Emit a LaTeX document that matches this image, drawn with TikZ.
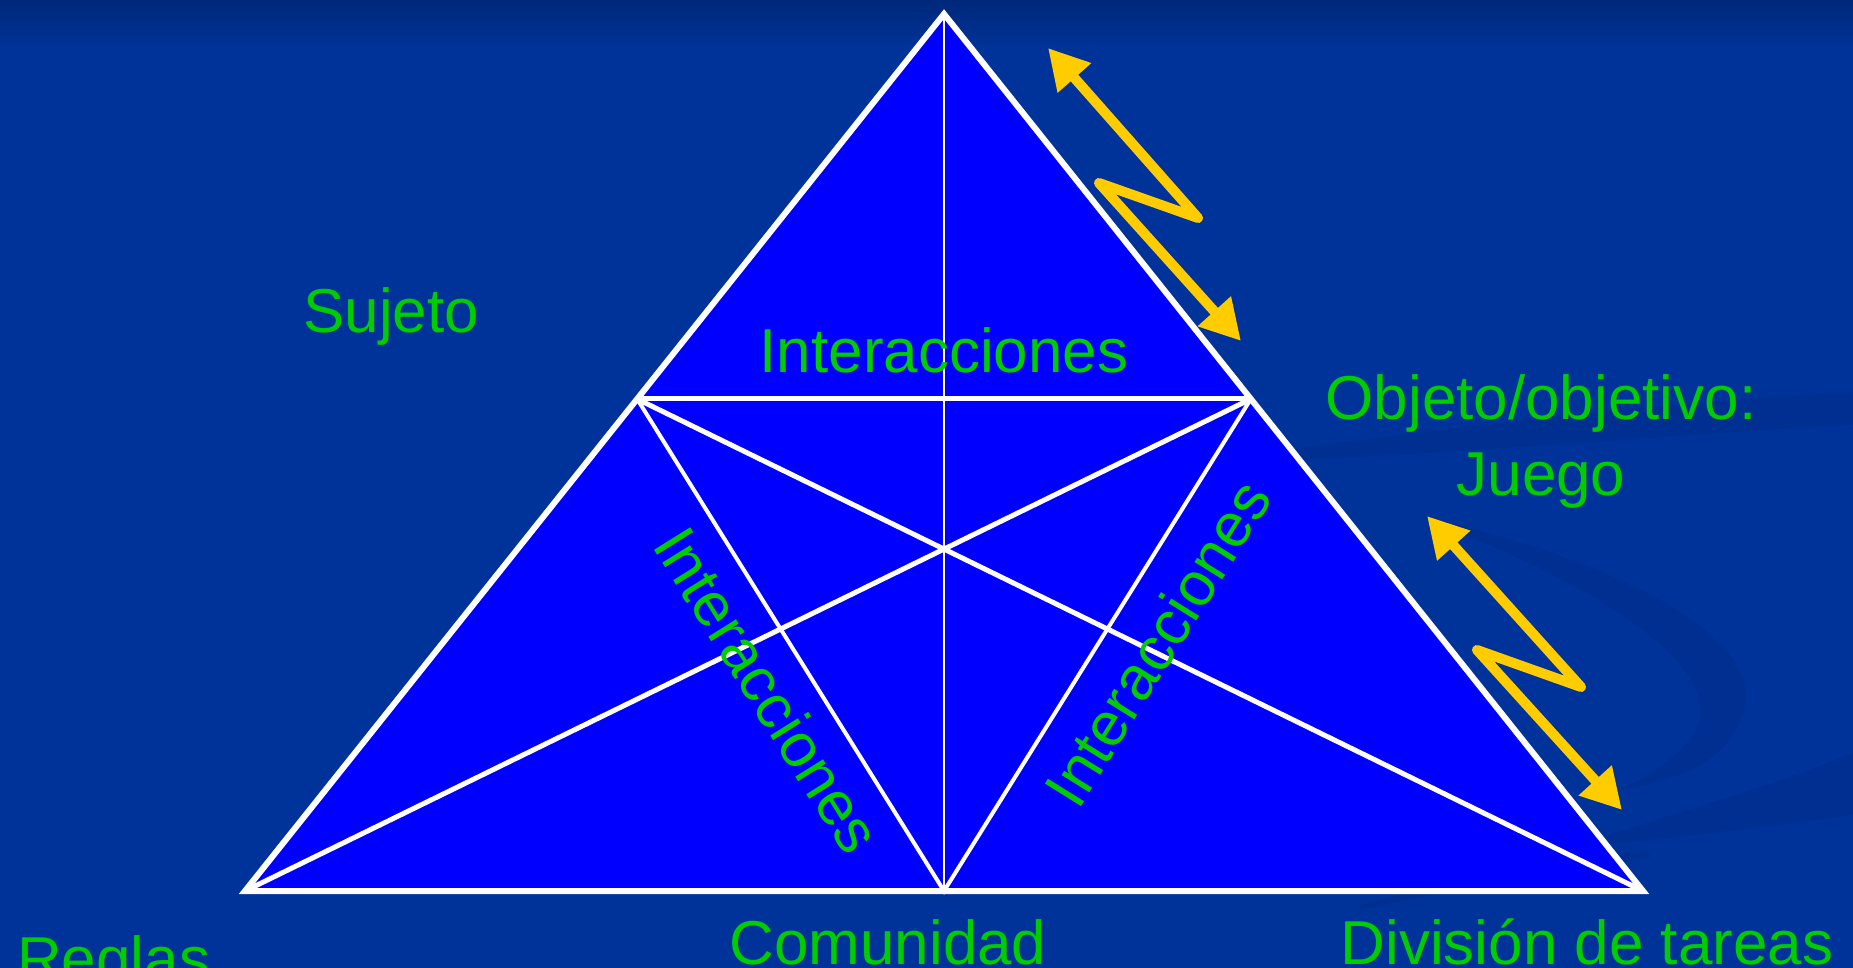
\documentclass[tikz,border=0pt]{standalone}
\usepackage{fontspec}
\setmainfont{Liberation Sans}
\usetikzlibrary{arrows.meta,calc}
\definecolor{bgblue}{RGB}{0,51,153}
\definecolor{topblue}{RGB}{0,40,122}
\definecolor{swooshblue}{RGB}{0,47,146}
\definecolor{fillblue}{RGB}{0,0,255}
\definecolor{labelgreen}{RGB}{0,204,0}
\definecolor{arrowyellow}{RGB}{255,204,0}
\begin{document}
\begin{tikzpicture}[x=1pt,y=-1pt,
  lbl/.style={text=labelgreen,font=\fontsize{62}{74}\selectfont,inner sep=0pt},
  outline/.style={draw=white,line width=6pt,line join=miter},
  longline/.style={draw=white,line width=5pt},
  midline/.style={draw=white,line width=4pt},
  axisline/.style={draw=white,line width=2.6pt},
  zigzag/.style={draw=arrowyellow,line width=10pt,line join=round,line cap=round,
    {Triangle[length=40pt,width=42pt]}-{Triangle[length=40pt,width=42pt]}},
  swoosh/.style={fill=swooshblue}
]
\useasboundingbox (0,0) rectangle (1853,968);
\clip (0,0) rectangle (1853,968);
% background
\fill[bgblue] (0,0) rectangle (1853,968);
\fill[top color=topblue,bottom color=bgblue] (0,0) rectangle (1853,50);
% faint background swoosh
\fill[swoosh] (1250,455) .. controls (1500,420) and (1700,400) .. (1853,392)
  -- (1853,425) .. controls (1700,432) and (1500,452) .. (1250,462) -- cycle;
\fill[swoosh] (1415,515) .. controls (1560,545) and (1760,620) .. (1745,705)
  .. controls (1735,760) and (1680,780) .. (1620,790)
  .. controls (1670,765) and (1705,735) .. (1700,705)
  .. controls (1690,640) and (1560,570) .. (1415,515) -- cycle;
\fill[swoosh] (1600,838) .. controls (1700,805) and (1790,780) .. (1853,752)
  -- (1853,815) .. controls (1780,825) and (1700,835) .. (1600,845) -- cycle;
\fill[swoosh] (1360,905) .. controls (1450,880) and (1550,862) .. (1650,850)
  -- (1650,858) .. controls (1550,870) and (1450,890) .. (1360,910) -- cycle;
% triangle vertices
\coordinate (A) at (944,14);
\coordinate (B) at (245,891);
\coordinate (C) at (1643,891);
\coordinate (M) at (944,891);
\coordinate (P) at ($(A)!0.439!(B)$);
\coordinate (Q) at ($(A)!0.439!(C)$);
% triangle
\fill[fillblue] (A) -- (B) -- (C) -- cycle;
\draw[axisline] (A) -- (M);
\draw[midline] (P) -- (M) -- (Q);
\draw[longline] (P) -- (C);
\draw[longline] (Q) -- (B);
\draw[longline] (P) -- (Q);
\draw[outline] (A) -- (B) -- (C) -- cycle;
% labels
\node[lbl,anchor=base] (inttop) at (944,373) {Interacciones};
\node[lbl,rotate=-58] (intleft) at (768,690) {Interacciones};
\node[lbl,rotate=58] (intright) at (1157,643) {Interacciones};
\node[lbl,anchor=base west] (sujeto) at (303,333) {Sujeto};
\node[lbl,anchor=base] (objeto) at (1541,419) {Objeto/objetivo:};
\node[lbl,anchor=base] (juego) at (1541,495) {Juego};
\node[lbl,anchor=base west] (reglas) at (17,980) {Reglas};
\node[lbl,anchor=base] (comunidad) at (888,964) {Comunidad};
\node[lbl,anchor=base] (division) at (1587,964) {División de tareas};
% zigzag arrows
\coordinate (a1) at (1048,48);
\coordinate (a2) at (1198,218);
\coordinate (a3) at (1099,183);
\coordinate (a4) at (1241,341);
\draw[zigzag] (a1) -- (a2) -- (a3) -- (a4);
\coordinate (b1) at (1427,516);
\coordinate (b2) at (1581,687);
\coordinate (b3) at (1477,650);
\coordinate (b4) at (1622,810);
\draw[zigzag] (b1) -- (b2) -- (b3) -- (b4);
\end{tikzpicture}
\end{document}
